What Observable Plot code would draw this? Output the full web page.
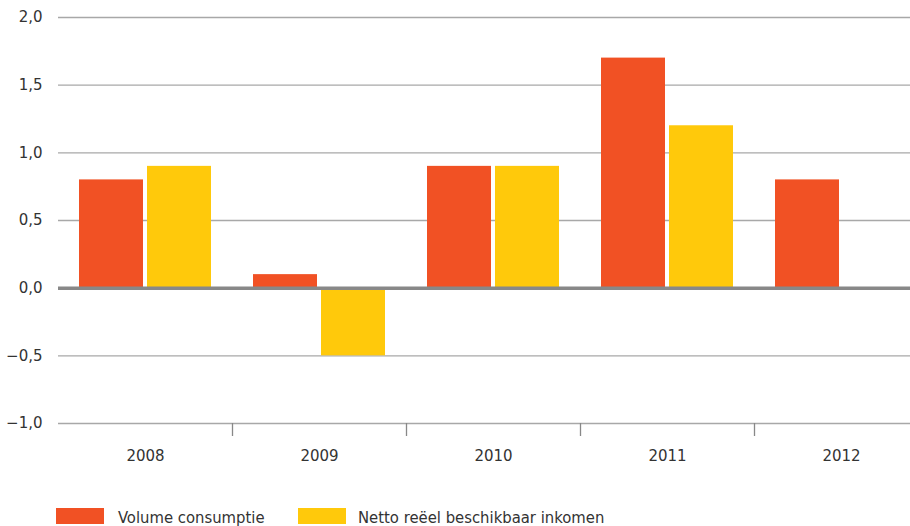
<!DOCTYPE html>
<html>
<head>
<meta charset="utf-8">
<script src="https://cdn.jsdelivr.net/npm/d3@7"></script>
<script src="https://cdn.jsdelivr.net/npm/@observablehq/plot@0.6"></script>
<style>
  html, body { margin: 0; padding: 0; background: #fff; }
  body { width: 910px; height: 526px; overflow: hidden; position: relative;
         font-family: "DejaVu Sans", sans-serif; }
  #chart { width: 910px; overflow: hidden; }
  #chart svg { max-width: none !important; }
  .legend { position: absolute; top: 508px; left: 0; width: 910px; height: 20px;
            font-family: "DejaVu Sans Condensed", "DejaVu Sans", sans-serif; font-stretch: condensed;
            font-size: 16.5px; color: #333; }
  .sw { position: absolute; top: 0; width: 48px; height: 16px; }
  .lt { position: absolute; top: 0px; line-height: 19px; white-space: nowrap; }
</style>
</head>
<body>
<div id="chart"></div>
<div class="legend" id="legend"></div>
<script>
const years = ["2008", "2009", "2010", "2011", "2012"];
const seriesNames = ["Volume consumptie", "Netto reëel beschikbaar inkomen"];
const volumeConsumptie = [0.8, 0.1, 0.9, 1.7, 0.8];
const nettoInkomen = [0.9, -0.5, 0.9, 1.2, null];
const seriesColors = ["#f15124", "#ffc90b"];
const yTicks = [-1, -0.5, 0, 0.5, 1, 1.5, 2];

const seriesValues = [volumeConsumptie, nettoInkomen];
const rows = [];
years.forEach((yr, i) => {
  seriesNames.forEach((s, j) => {
    const v = seriesValues[j][i];
    if (v != null) rows.push({year: yr, series: s, value: v});
  });
});

const fmt = d => d.toFixed(1).replace(".", ",").replace("-", "\u2212");

const chart = Plot.plot({
  width: 928,
  height: 495,
  marginLeft: 58,
  marginRight: 0,
  marginTop: 17,
  marginBottom: 72,
  style: {fontFamily: "DejaVu Sans, sans-serif", color: "#333", background: "#fff"},
  fx: {domain: years, padding: 0, label: null},
  x: {domain: seriesNames, paddingInner: 0.058, paddingOuter: 0.29, axis: null},
  y: {domain: [-1, 2], label: null},
  color: {domain: seriesNames, range: seriesColors},
  marks: [
    Plot.gridY(yTicks, {stroke: "#a8a8a8", strokeOpacity: 1, strokeWidth: 1.3}),
    Plot.axisY(yTicks, {tickSize: 0, tickPadding: 16, tickFormat: fmt, fontSize: 15, fill: "#333", label: null}),
    Plot.barY(rows, {fx: "year", x: "series", y: "value", fill: "series"}),
    Plot.ruleY([0], {stroke: "#888", strokeWidth: 3.5}),
    Plot.axisFx({anchor: "bottom", tickSize: 0, tickPadding: 27, fontSize: 15, fill: "#333", label: null}),
    Plot.axisFx({anchor: "bottom", ticks: years.slice(1), tickSize: 13, tickFormat: () => "", dx: -87, stroke: "#888", strokeWidth: 1.3, label: null})
  ]
});
document.getElementById("chart").appendChild(chart);

const legend = document.getElementById("legend");
const swLeft = [56, 298];
const txtLeft = [118, 358];
seriesNames.forEach((s, j) => {
  const sw = document.createElement("div");
  sw.className = "sw";
  sw.style.left = swLeft[j] + "px";
  sw.style.background = seriesColors[j];
  legend.appendChild(sw);
  const t = document.createElement("div");
  t.className = "lt";
  t.style.left = txtLeft[j] + "px";
  t.textContent = s;
  legend.appendChild(t);
});
</script>
</body>
</html>
